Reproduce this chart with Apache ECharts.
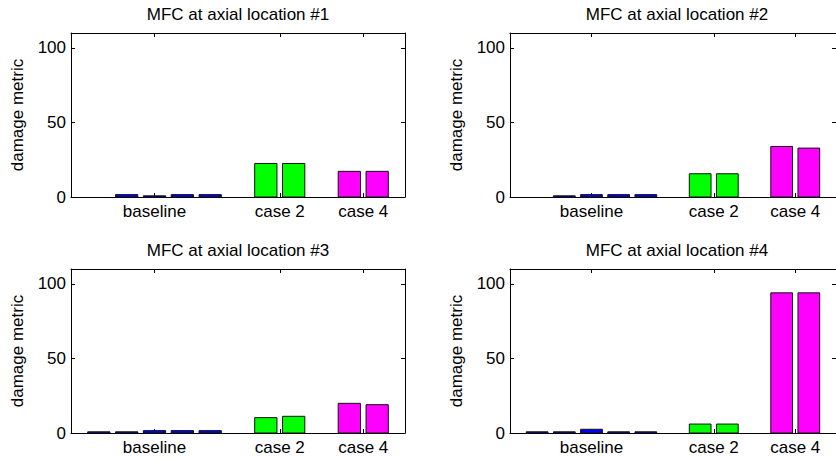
<!DOCTYPE html>
<html>
<head>
<meta charset="utf-8">
<script src="https://cdn.jsdelivr.net/npm/echarts@6/dist/echarts.min.js"></script>
<style>
html,body{margin:0;padding:0;background:#fff;}
#chart{width:836px;height:459px;}
</style>
</head>
<body>
<div id="chart"></div>
<script>
// ---- data ----
const titles = ['MFC at axial location #1', 'MFC at axial location #2', 'MFC at axial location #3', 'MFC at axial location #4'];
const categories = ['baseline', 'case 2', 'case 4'];
const categoryTicks = [3, 7.5, 10.5];
const yTicks = [0, 50, 100];
const barPositions = [1, 2, 3, 4, 5, 7, 8, 10, 11];
const barGroup = [0, 0, 0, 0, 0, 1, 1, 2, 2];
const location1 = [0, 1.6, 0.8, 1.6, 1.6, 22.5, 22.5, 17.2, 17.2];
const location2 = [0, 0.8, 1.6, 1.6, 1.6, 15.6, 15.6, 33.9, 32.8];
const location3 = [0.8, 0.8, 1.6, 1.6, 1.6, 10.3, 11.2, 19.9, 19.0];
const location4 = [0.8, 0.8, 2.5, 0.8, 0.8, 6.0, 6.0, 94.0, 94.0];
const allLocations = [location1, location2, location3, location4];

// ---- style / layout ----
const groupColors = ['#0000ff', '#00ff00', '#ff00ff'];
const FONT = 'Liberation Sans, Arial, sans-serif';
const FS = 17;
const grids = [
  {left: 71, top: 33, width: 334, height: 164},
  {left: 510, top: 33, width: 334, height: 164},
  {left: 71, top: 269, width: 334, height: 164},
  {left: 510, top: 269, width: 334, height: 164}
];
const X_MIN = 0, X_MAX = 12, Y_MIN = 0, Y_MAX = 110, BAR_W = 0.8;

const axisLine = {show: true, onZero: false, lineStyle: {color: '#000', width: 1}};
const tickStyle = {lineStyle: {color: '#000', width: 1}};

const xAxes = [], yAxes = [], series = [], graphics = [];
grids.forEach((g, i) => {
  xAxes.push({
    type: 'value', gridIndex: i, min: X_MIN, max: X_MAX, position: 'bottom',
    axisLine: axisLine, splitLine: {show: false},
    axisTick: Object.assign({show: true, inside: true, length: 4, customValues: categoryTicks}, tickStyle),
    axisLabel: {show: true, customValues: categoryTicks, margin: 6, color: '#000', fontFamily: FONT, fontSize: FS,
      formatter: v => categories[categoryTicks.indexOf(v)] || ''}
  });
  xAxes.push({
    type: 'value', gridIndex: i, min: X_MIN, max: X_MAX, position: 'top',
    axisLine: axisLine, splitLine: {show: false},
    axisTick: Object.assign({show: true, inside: true, length: 4, customValues: categoryTicks}, tickStyle),
    axisLabel: {show: false}
  });
  yAxes.push({
    type: 'value', gridIndex: i, min: Y_MIN, max: Y_MAX, position: 'left',
    axisLine: axisLine, splitLine: {show: false},
    axisTick: Object.assign({show: true, inside: true, length: 4, customValues: yTicks}, tickStyle),
    axisLabel: {show: true, customValues: yTicks, margin: 5, color: '#000', fontFamily: FONT, fontSize: FS},
    name: 'damage metric', nameLocation: 'middle', nameGap: 45, nameRotate: 90,
    nameTextStyle: {color: '#000', fontFamily: FONT, fontSize: FS}
  });
  yAxes.push({
    type: 'value', gridIndex: i, min: Y_MIN, max: Y_MAX, position: 'right',
    axisLine: axisLine, splitLine: {show: false},
    axisTick: Object.assign({show: true, inside: true, length: 4, customValues: yTicks}, tickStyle),
    axisLabel: {show: false}
  });
  const vals = allLocations[i];
  series.push({
    type: 'custom', xAxisIndex: 2 * i, yAxisIndex: 2 * i,
    data: barPositions.map((p, k) => [p, vals[k], barGroup[k]]),
    renderItem: function (params, api) {
      const x = api.value(0), y = api.value(1);
      if (!(y > 0)) return null;
      const p0 = api.coord([x - BAR_W / 2, y]);
      const p1 = api.coord([x + BAR_W / 2, 0]);
      return {
        type: 'rect',
        shape: {x: p0[0], y: p0[1], width: p1[0] - p0[0], height: p1[1] - p0[1]},
        style: {fill: groupColors[api.value(2)], stroke: '#111', lineWidth: 1}
      };
    },
    z: 1
  });
  graphics.push({
    type: 'text',
    x: g.left + g.width / 2, y: g.top - 19,
    style: {text: titles[i], fill: '#000', font: FS + 'px ' + FONT, textAlign: 'center', textVerticalAlign: 'middle'}
  });
});

const chart = echarts.init(document.getElementById('chart'), null, {renderer: 'svg'});
chart.setOption({
  animation: false,
  backgroundColor: '#fff',
  grid: grids.map(g => Object.assign({containLabel: false}, g)),
  xAxis: xAxes,
  yAxis: yAxes,
  series: series,
  graphic: graphics
});
</script>
</body>
</html>
